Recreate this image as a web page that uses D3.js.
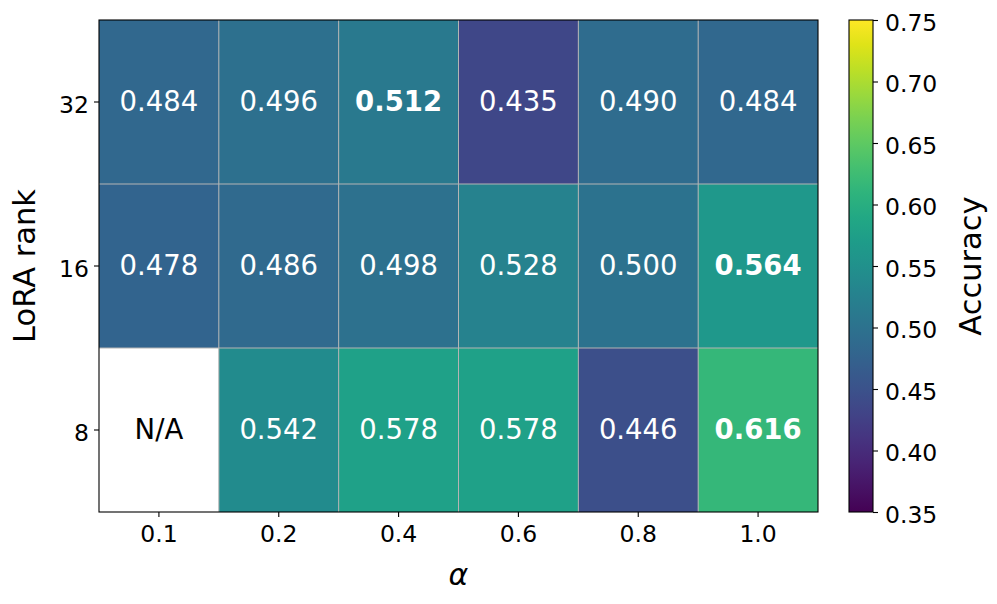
<!DOCTYPE html>
<html>
<head>
<meta charset="utf-8">
<script src="https://cdn.jsdelivr.net/npm/d3@7"></script>
<style>
  html, body { margin: 0; padding: 0; background: #fff; }
  svg { display: block; font-family: "DejaVu Sans", sans-serif; }
</style>
</head>
<body>
<svg id="chart" width="997" height="604"></svg>
<script>
// ---- data ----
const alphas = ["0.1", "0.2", "0.4", "0.6", "0.8", "1.0"];
const ranks = ["32", "16", "8"];
const rank32 = [0.484, 0.496, 0.512, 0.435, 0.490, 0.484];
const rank16 = [0.478, 0.486, 0.498, 0.528, 0.500, 0.564];
const rank8  = [null, 0.542, 0.578, 0.578, 0.446, 0.616];
const colorTicks = [0.35, 0.40, 0.45, 0.50, 0.55, 0.60, 0.65, 0.70, 0.75];
const colorDomain = [0.35, 0.75];

const rows = [rank32, rank16, rank8];
const cells = [];
rows.forEach((vals, ri) => {
  const best = d3.max(vals.filter(v => v != null));
  vals.forEach((v, ci) => cells.push({ rank: ranks[ri], alpha: alphas[ci], value: v, best: v === best }));
});

// ---- layout ----
const svg = d3.select("#chart");
const plot = { left: 99, right: 818, top: 20, bottom: 512 };
const cbar = { left: 849, right: 873 };

const x = d3.scaleBand().domain(alphas).range([plot.left, plot.right]).padding(0);
const y = d3.scaleBand().domain(ranks).range([plot.top, plot.bottom]).padding(0);
const color = d3.scaleSequential(d3.interpolateViridis).domain(colorDomain);

// cells
svg.append("g").selectAll("rect").data(cells).join("rect")
  .attr("x", d => x(d.alpha))
  .attr("y", d => y(d.rank))
  .attr("width", x.bandwidth())
  .attr("height", y.bandwidth())
  .attr("fill", d => d.value == null ? "#ffffff" : color(d.value));

// grid lines between cells
const grid = svg.append("g").attr("stroke", "#b4b4b4").attr("stroke-width", 1);
alphas.slice(1).forEach(a => {
  grid.append("line").attr("x1", x(a)).attr("x2", x(a)).attr("y1", plot.top).attr("y2", plot.bottom);
});
ranks.slice(1).forEach(r => {
  grid.append("line").attr("x1", plot.left).attr("x2", plot.right).attr("y1", y(r)).attr("y2", y(r));
});

// annotations
svg.append("g").selectAll("text").data(cells).join("text")
  .attr("x", d => x(d.alpha) + x.bandwidth() / 2)
  .attr("y", d => y(d.rank) + y.bandwidth() / 2 + 8.5)
  .attr("text-anchor", "middle")
  .attr("font-size", 27.5)
  .attr("font-weight", d => d.best ? "bold" : "normal")
  .attr("fill", d => d.value == null ? "#000" : "#fff")
  .text(d => d.value == null ? "N/A" : d3.format(".3f")(d.value));

// frame
svg.append("rect")
  .attr("x", plot.left).attr("y", plot.top)
  .attr("width", plot.right - plot.left).attr("height", plot.bottom - plot.top)
  .attr("fill", "none").attr("stroke", "#000").attr("stroke-width", 1.1);

// axes
const tickFont = 23.5;
const xAxis = svg.append("g").attr("transform", `translate(0,${plot.bottom})`)
  .call(d3.axisBottom(x).tickSize(5).tickSizeOuter(0));
xAxis.select(".domain").remove();
xAxis.selectAll("text").attr("y", 30).attr("dy", null)
  .attr("font-size", tickFont).attr("font-family", "DejaVu Sans").attr("fill", "#000");
xAxis.selectAll("line").attr("stroke", "#000").attr("stroke-width", 1.1);

const yAxis = svg.append("g").attr("transform", `translate(${plot.left},0)`)
  .call(d3.axisLeft(y).tickSize(5).tickSizeOuter(0));
yAxis.select(".domain").remove();
yAxis.selectAll("text").attr("x", -10).attr("dy", "0.46em")
  .attr("font-size", tickFont).attr("font-family", "DejaVu Sans").attr("fill", "#000");
yAxis.selectAll("line").attr("stroke", "#000").attr("stroke-width", 1.1);

// colorbar
const defs = svg.append("defs");
const grad = defs.append("linearGradient").attr("id", "viridisGrad")
  .attr("x1", 0).attr("y1", 1).attr("x2", 0).attr("y2", 0);
d3.range(0, 1.0001, 0.05).forEach(t => {
  grad.append("stop").attr("offset", t).attr("stop-color", d3.interpolateViridis(t));
});
svg.append("rect")
  .attr("x", cbar.left).attr("y", plot.top)
  .attr("width", cbar.right - cbar.left).attr("height", plot.bottom - plot.top)
  .attr("fill", "url(#viridisGrad)")
  .attr("stroke", "#000").attr("stroke-width", 1.1);

const cy = d3.scaleLinear().domain(colorDomain).range([plot.bottom, plot.top]);
const cAxis = svg.append("g").attr("transform", `translate(${cbar.right},0)`)
  .call(d3.axisRight(cy).tickValues(colorTicks).tickFormat(d3.format(".2f")).tickSize(5).tickSizeOuter(0));
cAxis.select(".domain").remove();
cAxis.selectAll("text").attr("x", 12).attr("dy", "0.43em")
  .attr("font-size", tickFont).attr("font-family", "DejaVu Sans").attr("fill", "#000");
cAxis.selectAll("line").attr("stroke", "#000").attr("stroke-width", 1.1);

// axis labels
svg.append("text")
  .attr("transform", `translate(35,${(plot.top + plot.bottom) / 2}) rotate(-90)`)
  .attr("text-anchor", "middle").attr("font-size", 30.5).attr("fill", "#000")
  .text("LoRA rank");
svg.append("text")
  .attr("transform", `translate(981,${(plot.top + plot.bottom) / 2}) rotate(-90)`)
  .attr("text-anchor", "middle").attr("font-size", 30.5).attr("fill", "#000")
  .text("Accuracy");
svg.append("text")
  .attr("x", (plot.left + plot.right) / 2).attr("y", 585)
  .attr("text-anchor", "middle").attr("font-size", 30).attr("font-style", "italic").attr("fill", "#000")
  .text("α");
</script>
</body>
</html>
